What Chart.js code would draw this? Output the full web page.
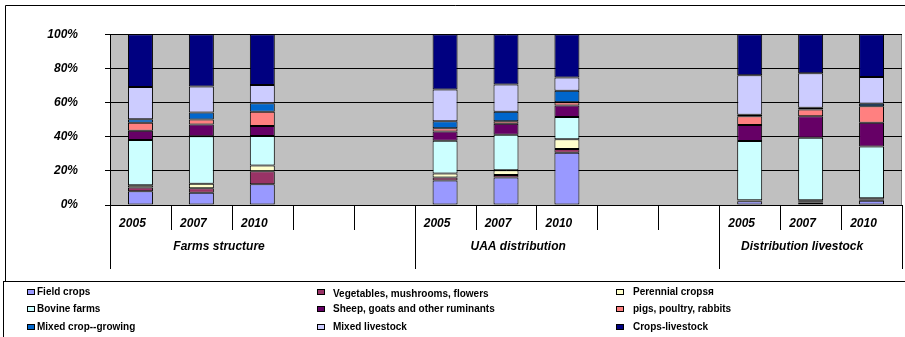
<!DOCTYPE html>
<html><head><meta charset="utf-8">
<script src="https://cdn.jsdelivr.net/npm/chart.js@4"></script>
<style>
html,body{margin:0;padding:0;background:#fff;}
#wrap{position:relative;width:905px;height:337px;overflow:hidden;}
#c{position:absolute;left:0;top:0;}
#legend{position:absolute;left:3px;top:281px;width:910px;height:62px;border:1px solid #000;box-sizing:border-box;font:bold 10px "Liberation Sans",Arial,sans-serif;color:#000;}
.item{position:absolute;white-space:nowrap;line-height:12px;}
.box{position:absolute;width:6px;height:4px;border:1px solid #000;}
</style></head>
<body><div id="wrap"><canvas id="c" width="905" height="337"></canvas><div id="legend"></div></div>
<script>
// ---- data ----
const categories = ['2005','2007','2010','','','2005','2007','2010','','','2005','2007','2010'];
const groupNames = ['Farms structure','UAA distribution','Distribution livestock'];
const yTickLabels = ['0%','20%','40%','60%','80%','100%'];

const fieldCrops      = [8.0, 7.2, 12.2, null, null, 14.4, 16.1, 30.6, null, null, 2.2, 1.5, 2.5];
const vegetables      = [2.2, 2.6, 7.6,  null, null, 1.7,  1.5,  2.2,  null, null, 0.3, 0.7, 0.7];
const perennial       = [1.3, 2.6, 3.3,  null, null, 2.4,  2.8,  5.7,  null, null, 0.3, 0.6, 0.7];
const bovine          = [26.5, 27.8, 17.3, null, null, 19.1, 20.7, 13.0, null, null, 34.6, 36.6, 30.4];
const sheepGoats      = [5.5, 7.0, 5.9,  null, null, 5.4,  6.5,  6.8,  null, null, 9.5, 12.5, 13.8];
const pigsPoultry     = [4.6, 2.8, 8.3,  null, null, 2.0,  1.5,  1.9,  null, null, 5.0, 4.0, 9.7];
const mixedCrop       = [2.1, 4.1, 5.0,  null, null, 4.1,  5.5,  6.7,  null, null, 0.9, 1.0, 1.5];
const mixedLivestock  = [18.9, 15.3, 10.6, null, null, 18.5, 16.0, 7.7, null, null, 23.1, 20.3, 15.7];
const cropsLivestock  = [30.9, 30.6, 29.8, null, null, 32.4, 29.4, 25.4, null, null, 24.1, 22.8, 25.0];

const seriesNames = ['Field crops','Vegetables, mushrooms, flowers','Perennial cropsя','Bovine farms','Sheep, goats and other ruminants','pigs, poultry, rabbits','Mixed crop--growing','Mixed livestock','Crops-livestock'];
const seriesData = [fieldCrops, vegetables, perennial, bovine, sheepGoats, pigsPoultry, mixedCrop, mixedLivestock, cropsLivestock];
const seriesColors = ['#9999FF','#993366','#FFFFCC','#CCFFFF','#660066','#FF8080','#0066CC','#CCCCFF','#000080'];

// ---- layout constants ----
const FONT = '"Liberation Sans", Arial, sans-serif';
const groupBoundaries = [0, 5, 10, 13];
const groupLabelAnchors = [1.29, 6.2, 10.86];

const decor = {
  id: 'decor',
  beforeDraw(chart) {
    const {ctx, chartArea: a} = chart;
    ctx.save();
    ctx.fillStyle = '#C0C0C0';
    ctx.fillRect(a.left, a.top, a.right - a.left, a.bottom - a.top);
    ctx.strokeStyle = '#000';
    ctx.lineWidth = 1;
    ctx.beginPath();
    ctx.moveTo(5.5, 281); ctx.lineTo(5.5, 5.5); ctx.lineTo(905, 5.5);
    ctx.stroke();
    ctx.strokeStyle = '#808080';
    ctx.beginPath();
    ctx.moveTo(a.right - 0.5, a.top); ctx.lineTo(a.right - 0.5, a.bottom);
    ctx.stroke();
    ctx.restore();
  },
  afterDraw(chart) {
    const {ctx} = chart;
    const xs = chart.scales.x;
    const n = categories.length;
    const step = (xs.right - xs.left) / n;
    ctx.save();
    ctx.strokeStyle = '#000';
    ctx.lineWidth = 1;
    for (let i = 0; i <= n; i++) {
      const x = Math.round(xs.left + i * step) + 0.5;
      const long = groupBoundaries.includes(i);
      ctx.beginPath();
      ctx.moveTo(x, xs.top);
      ctx.lineTo(x, xs.top + (long ? 64 : 25));
      ctx.stroke();
    }
    ctx.fillStyle = '#000';
    ctx.font = 'italic bold 12px ' + FONT;
    ctx.textAlign = 'center';
    ctx.textBaseline = 'middle';
    groupNames.forEach((g, i) => {
      const x = xs.left + (groupLabelAnchors[i] + 0.5) * step;
      ctx.fillText(g, x, xs.top + 42);
    });
    ctx.restore();
  }
};

const chart = new Chart(document.getElementById('c'), {
  type: 'bar',
  data: {
    labels: categories,
    datasets: seriesNames.map((name, i) => ({
      label: name,
      data: seriesData[i],
      backgroundColor: seriesColors[i],
      borderColor: '#000',
      borderWidth: 1,
      borderSkipped: false,
      barPercentage: 0.41,
      categoryPercentage: 1
    }))
  },
  options: {
    responsive: false,
    animation: false,
    devicePixelRatio: 1,
    layout: {padding: {left: 0, top: 25, right: 3, bottom: 67}},
    plugins: {legend: {display: false}, tooltip: {enabled: false}},
    scales: {
      x: {
        stacked: true,
        offset: true,
        grid: {display: true, drawOnChartArea: false, drawTicks: false},
        border: {display: true, color: '#000', width: 1},
        ticks: {
          autoSkip: false, maxRotation: 0, padding: 11, labelOffset: -8,
          color: '#000', font: {family: FONT, size: 12, weight: 'bold', style: 'italic'}
        },
        afterFit(s) { s.height = 65; }
      },
      y: {
        stacked: true,
        min: 0, max: 100,
        grid: {color: '#000', lineWidth: 1, tickLength: 5, drawTicks: true},
        border: {display: true, color: '#000', width: 1},
        ticks: {
          stepSize: 20, padding: 27, color: '#000',
          font: {family: FONT, size: 12, weight: 'bold', style: 'italic'},
          callback: (v) => yTickLabels[Math.round(v / 20)]
        },
        afterFit(s) { s.width = 110; }
      }
    }
  },
  plugins: [decor]
});

// HTML legend built from the chart's datasets
const legend = document.getElementById('legend');
const colMarker = [23, 313, 612];
const colText = [33, 329, 629];
const rowTop = [4, 21, 39];
chart.data.datasets.forEach((ds, i) => {
  const col = i % 3, row = Math.floor(i / 3);
  const box = document.createElement('div');
  box.className = 'box';
  box.style.left = colMarker[col] + 'px';
  box.style.top = (rowTop[row] + 3) + 'px';
  box.style.background = ds.backgroundColor;
  legend.appendChild(box);
  const t = document.createElement('div');
  t.className = 'item';
  t.style.left = colText[col] + 'px';
  t.style.top = (rowTop[row] + (col === 1 && row === 0 ? 2 : 0)) + 'px';
  t.textContent = ds.label;
  legend.appendChild(t);
});
</script>
</body></html>
